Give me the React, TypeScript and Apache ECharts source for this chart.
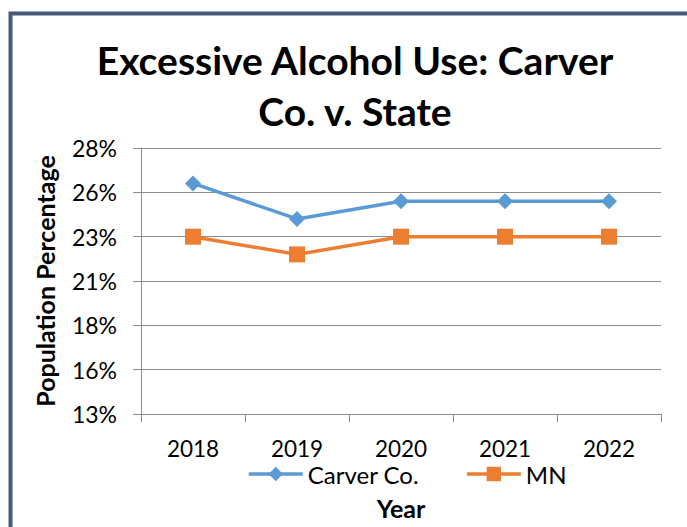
import React, { useEffect, useRef } from "react";
import * as echarts from "echarts";

const years = ["2018", "2019", "2020", "2021", "2022"];
const carverCo = [26, 24, 25, 25, 25];
const mn = [23, 22, 23, 23, 23];
const yMin = 13;
const yMax = 28;
const yStep = 2.5;

const FONT = "Lato, 'Open Sans', sans-serif";

export default function App() {
  const ref = useRef<HTMLDivElement>(null);
  useEffect(() => {
    if (!ref.current) return;
    const chart = echarts.init(ref.current, null, { renderer: "svg" });
    chart.setOption({
      animation: false,
      backgroundColor: "#ffffff",
      textStyle: { fontFamily: FONT },
      title: {
        text: "Excessive Alcohol Use: Carver\nCo. v. State",
        left: 355,
        top: 34,
        padding: 0,
        textAlign: "center",
        textStyle: {
          fontFamily: FONT,
          fontWeight: "bold",
          fontSize: 39,
          lineHeight: 51,
          color: "#000000",
        },
      },
      graphic: [
        {
          type: "rect",
          shape: { x: 10.5, y: 13.5, width: 900, height: 900 },
          style: { fill: "none", stroke: "#475B78", lineWidth: 4 },
          silent: true,
        },
      ],
      grid: { left: 141, top: 148, right: 26, bottom: 113, containLabel: false },
      legend: {
        top: 462,
        left: 242,
        padding: [0, 5, 0, 5],
        itemWidth: 54,
        itemHeight: 18,
        itemGap: 46,
        lineStyle: { width: 3.5 },
        textStyle: { fontFamily: FONT, fontSize: 24, lineHeight: 22, color: "#000000" },
        data: ["Carver Co.", "MN"],
      },
      xAxis: {
        type: "category",
        data: years,
        boundaryGap: true,
        name: "Year",
        nameLocation: "middle",
        nameGap: 81,
        nameTextStyle: { fontFamily: FONT, fontWeight: "bold", fontSize: 25, color: "#000000" },
        axisLine: { lineStyle: { color: "#8C8C8C", width: 1 } },
        axisTick: { show: true, inside: false, length: 8, alignWithLabel: false, lineStyle: { color: "#8C8C8C" } },
        axisLabel: { fontFamily: FONT, fontSize: 22.5, lineHeight: 19, color: "#000000", margin: 25 },
        splitLine: { show: false },
      },
      yAxis: {
        type: "value",
        min: yMin,
        max: yMax,
        interval: yStep,
        name: "Population Percentage",
        nameLocation: "middle",
        nameGap: 84,
        nameRotate: 90,
        nameTextStyle: { fontFamily: FONT, fontWeight: "bold", fontSize: 25, color: "#000000" },
        axisLine: { show: true, lineStyle: { color: "#8C8C8C", width: 1 } },
        axisTick: { show: true, inside: false, length: 8, lineStyle: { color: "#8C8C8C" } },
        axisLabel: {
          fontFamily: FONT,
          fontSize: 23,
          color: "#000000",
          margin: 24,
          formatter: (v: number) => Math.round(v) + "%",
        },
        splitLine: { show: true, lineStyle: { color: "#8C8C8C", width: 1 } },
      },
      series: [
        {
          name: "Carver Co.",
          type: "line",
          data: carverCo,
          symbol: "diamond",
          symbolSize: 16,
          lineStyle: { color: "#5B9BD5", width: 3.5 },
          itemStyle: { color: "#5B9BD5" },
        },
        {
          name: "MN",
          type: "line",
          data: mn,
          symbol: "rect",
          symbolSize: 16,
          lineStyle: { color: "#ED7D31", width: 3.5 },
          itemStyle: { color: "#ED7D31" },
        },
      ],
    });
    return () => chart.dispose();
  }, []);
  return (
    <div
      ref={ref}
      style={{ position: "absolute", left: 0, top: 0, width: 687, height: 527 }}
    />
  );
}
